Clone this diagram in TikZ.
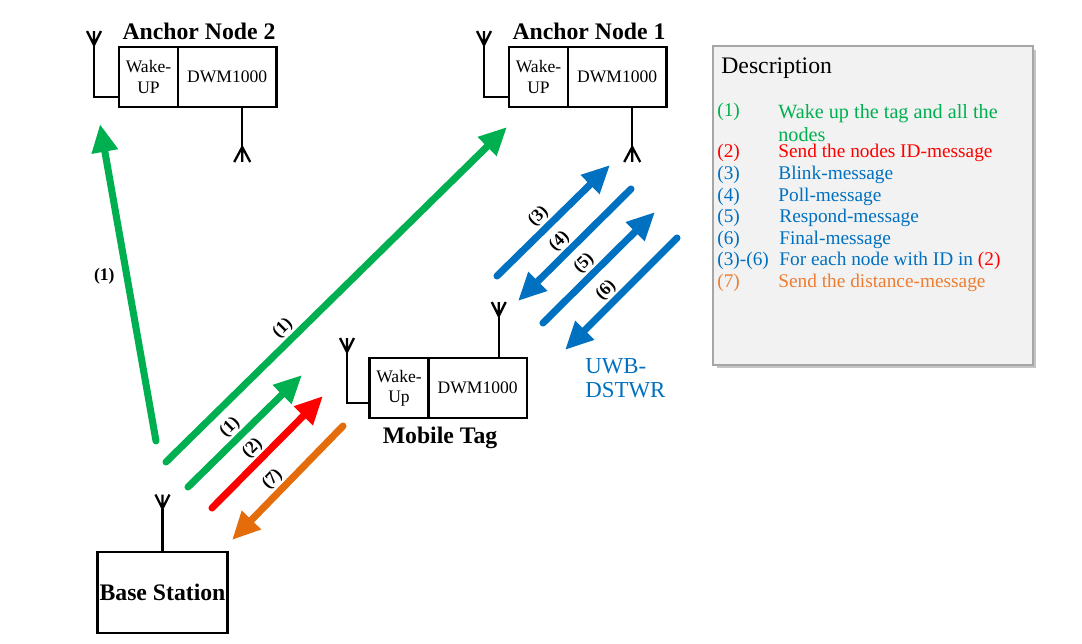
\documentclass[tikz,border=0pt]{standalone}
\usepackage{fontspec}
\setmainfont{Liberation Serif}
\usetikzlibrary{arrows.meta,positioning,shadows}

\definecolor{msggreen}{HTML}{00B050}
\definecolor{msgred}{HTML}{FF0000}
\definecolor{msgblue}{HTML}{0070C0}
\definecolor{msgorange}{HTML}{E46C0A}
\definecolor{txtorange}{HTML}{ED7D31}

\tikzset{
  unit/.style={draw, line width=1.6pt, inner sep=0pt, outer sep=0pt, minimum height=1.2cm, align=center, font=\fontsize{10}{11.5}\selectfont},
  wakebox/.style={unit, minimum width=1.18cm},
  dwmbox/.style={unit, minimum width=1.97cm},
  title/.style={font=\bfseries\fontsize{13.5}{15}\selectfont},
  ant/.style={line width=1.3pt},
  msg/.style={line width=4pt, line cap=round, -{Triangle[length=0.56cm, width=0.5cm]}},
  num/.style={font=\bfseries\fontsize{10}{11}\selectfont, text=black, inner sep=1pt},
  item/.style={anchor=west, inner sep=0pt, align=left, font=\fontsize{11}{13}\selectfont},
  descbox/.style={draw=black!35, fill=black!5, line width=0.8pt, minimum width=6.4cm, minimum height=6.38cm,
    drop shadow={shadow xshift=2pt, shadow yshift=-2pt, fill=black!45}},
  antup/.pic={\draw[ant] (0,0) -- (0,-14) (-7,-14) -- (0,0) -- (7,-14);},
  antdown/.pic={\draw[ant] (0,0) -- (0,15) (-8,15) -- (0,0) -- (8,15);},
}

\begin{document}
\begin{tikzpicture}[x=0.02cm, y=-0.02cm]
  \useasboundingbox (0,0) rectangle (1082,643);

  % anchor node 2
  \node[wakebox] (wake2) at (148.5,77) {Wake-\\UP};
  \node[dwmbox, right=0pt of wake2] (dwm2) {DWM1000};
  \node[title] (anc2) at (199,31) {Anchor Node 2};
  \draw[ant] ([yshift=0.2cm]wake2.south west) -| (94,45) pic {antup};
  \draw[ant] ([xshift=0.3cm]dwm2.south) -- ++(0,40) pic {antdown};

  % anchor node 1
  \node[wakebox] (wake1) at (538.5,77) {Wake-\\UP};
  \node[dwmbox, right=0pt of wake1] (dwm1) {DWM1000};
  \node[title] (anc1) at (589,31) {Anchor Node 1};
  \draw[ant] ([yshift=0.2cm]wake1.south west) -| (484,45) pic {antup};
  \draw[ant] ([xshift=0.3cm]dwm1.south) -- ++(0,40) pic {antdown};

  % mobile tag
  \node[wakebox] (waketag) at (399,388) {Wake-\\Up};
  \node[dwmbox, right=0pt of waketag] (dwmtag) {DWM1000};
  \node[title] (tag) at (440,438) {Mobile Tag};
  \draw[ant] ([yshift=0.3cm]waketag.south west) -| (347,352) pic {antup};
  \draw[ant] ([xshift=0.42cm]dwmtag.north) -- ++(0,-42) pic {antup};

  % base station
  \node[draw, line width=1.6pt, minimum width=2.6cm, minimum height=1.62cm, inner sep=1pt, title] (base) at (162.5,592.5) {Base Station};
  \draw[ant] (base.north) -- ++(0,-42) pic {antup};

  % messages
  \coordinate (g1a) at (156,441); \coordinate (g1b) at (100,124);
  \coordinate (g2a) at (166,462); \coordinate (g2b) at (507,127);
  \coordinate (g3a) at (188,487); \coordinate (g3b) at (302,375);
  \coordinate (r2a) at (212,508); \coordinate (r2b) at (323,396);
  \coordinate (o7a) at (343,426); \coordinate (o7b) at (232,540);
  \coordinate (b3a) at (497,276); \coordinate (b3b) at (610,165);
  \coordinate (b4a) at (631,189); \coordinate (b4b) at (518,301);
  \coordinate (b5a) at (543,323); \coordinate (b5b) at (655,212);
  \coordinate (b6a) at (677,238); \coordinate (b6b) at (565,350);

  \draw[msg, msggreen] (g1a) -- node[num, left=4pt, pos=0.52] {(1)} (g1b);
  \draw[msg, msggreen] (g2a) -- node[num, sloped, above, pos=0.37] {(1)} (g2b);
  \draw[msg, msggreen] (g3a) -- node[num, sloped, above, pos=0.45] {(1)} (g3b);
  \draw[msg, msgred] (r2a) -- node[num, sloped, above, pos=0.45] {(2)} (r2b);
  \draw[msg, msgorange] (o7a) -- node[num, sloped, above, pos=0.55] {(7)} (o7b);
  \draw[msg, msgblue] (b3a) -- node[num, sloped, above, pos=0.45] {(3)} (b3b);
  \draw[msg, msgblue] (b4a) -- node[num, sloped, above, pos=0.55] {(4)} (b4b);
  \draw[msg, msgblue] (b5a) -- node[num, sloped, above, pos=0.45] {(5)} (b5b);
  \draw[msg, msgblue] (b6a) -- node[num, sloped, above, pos=0.55] {(6)} (b6b);

  \node[item, msgblue, font=\fontsize{13}{14}\selectfont] (uwb) at (585,378) {UWB-\\DSTWR};

  % description
  \node[descbox] (desc) at (873,205.5) {};
  \node[item, font=\fontsize{13.5}{15}\selectfont] (dtitle) at (721,68) {Description};
  \node[item, msggreen] (n1) at (717,112) {(1)};
  \node[item, msggreen, font=\fontsize{11.5}{13}\selectfont] (t1) at (778,123.5) {Wake up the tag and all the\\nodes};
  \node[item, msgred] (n2) at (717,153) {(2)};
  \node[item, msgred] (t2) at (778,153) {Send the nodes ID-message};
  \node[item, msgblue] (n3) at (717,175) {(3)};
  \node[item, msgblue] (t3) at (778,175) {Blink-message};
  \node[item, msgblue] (n4) at (717,197) {(4)};
  \node[item, msgblue] (t4) at (778,197) {Poll-message};
  \node[item, msgblue] (n5) at (717,218) {(5)};
  \node[item, msgblue] (t5) at (779,218) {Respond-message};
  \node[item, msgblue] (n6) at (717,240) {(6)};
  \node[item, msgblue] (t6) at (779,240) {Final-message};
  \node[item, msgblue] (n36) at (717,261) {(3)-(6)};
  \node[item, msgblue] (t36) at (779,261) {For each node with ID in \textcolor{msgred}{(2)}};
  \node[item, txtorange] (n7) at (717,283) {(7)};
  \node[item, txtorange] (t7) at (778,283) {Send the distance-message};
\end{tikzpicture}
\end{document}
